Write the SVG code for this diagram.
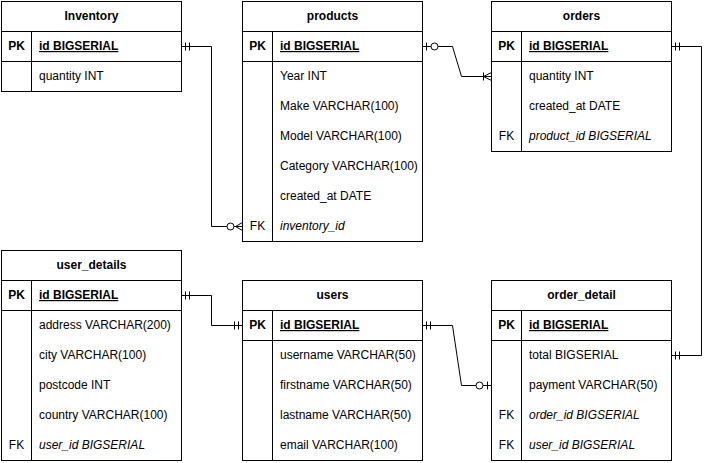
<svg xmlns="http://www.w3.org/2000/svg" width="713" height="463" viewBox="0 0 713 463">
<style>
  .box{fill:#fff;stroke:#000;stroke-width:1}
  .ln{stroke:#000;stroke-width:1;fill:none}
  text{font-family:"Liberation Sans",Arial,Helvetica,sans-serif;font-size:12px;fill:#000}
  .hd{font-weight:bold;text-anchor:middle}
  .key{font-weight:bold;text-anchor:middle}
  .fk{text-anchor:middle}
  .pk{font-weight:bold;text-decoration:underline}
  .it{font-style:italic}
  .conn path,.conn line{stroke:#000;stroke-width:1;fill:none}
  .conn circle{stroke:#000;stroke-width:1;fill:#fff}
</style>
<rect width="713" height="463" fill="#fff"/>

<g id="inventory">
  <rect class="box" x="1.5" y="1.5" width="180" height="90"/>
  <line class="ln" x1="1.5" y1="31.5" x2="181.5" y2="31.5"/>
  <line class="ln" x1="1.5" y1="61.5" x2="181.5" y2="61.5"/>
  <line class="ln" x1="31.5" y1="31.5" x2="31.5" y2="91.5"/>
  <text class="hd" x="91.5" y="20">Inventory</text>
  <text class="key" x="16.5" y="50">PK</text>
  <text class="pk" x="39" y="50">id BIGSERIAL</text>
  <text x="39" y="80">quantity INT</text>
</g>

<g id="products">
  <rect class="box" x="242.5" y="1.5" width="180" height="240"/>
  <line class="ln" x1="242.5" y1="31.5" x2="422.5" y2="31.5"/>
  <line class="ln" x1="242.5" y1="61.5" x2="422.5" y2="61.5"/>
  <line class="ln" x1="272.5" y1="31.5" x2="272.5" y2="241.5"/>
  <text class="hd" x="332.5" y="20">products</text>
  <text class="key" x="257.5" y="50">PK</text>
  <text class="pk" x="280" y="50">id BIGSERIAL</text>
  <text x="280" y="80">Year INT</text>
  <text x="280" y="110">Make VARCHAR(100)</text>
  <text x="280" y="140">Model VARCHAR(100)</text>
  <text x="280" y="170">Category VARCHAR(100)</text>
  <text x="280" y="200">created_at DATE</text>
  <text class="fk" x="257.5" y="230">FK</text>
  <text class="it" x="280" y="230">inventory_id</text>
</g>

<g id="orders">
  <rect class="box" x="491.5" y="1.5" width="180" height="150"/>
  <line class="ln" x1="491.5" y1="31.5" x2="671.5" y2="31.5"/>
  <line class="ln" x1="491.5" y1="61.5" x2="671.5" y2="61.5"/>
  <line class="ln" x1="521.5" y1="31.5" x2="521.5" y2="151.5"/>
  <text class="hd" x="581.5" y="20">orders</text>
  <text class="key" x="506.5" y="50">PK</text>
  <text class="pk" x="529" y="50">id BIGSERIAL</text>
  <text x="529" y="80">quantity INT</text>
  <text x="529" y="110">created_at DATE</text>
  <text class="fk" x="506.5" y="140">FK</text>
  <text class="it" x="529" y="140">product_id BIGSERIAL</text>
</g>

<g id="user_details">
  <rect class="box" x="1.5" y="250.5" width="180" height="210"/>
  <line class="ln" x1="1.5" y1="280.5" x2="181.5" y2="280.5"/>
  <line class="ln" x1="1.5" y1="310.5" x2="181.5" y2="310.5"/>
  <line class="ln" x1="31.5" y1="280.5" x2="31.5" y2="460.5"/>
  <text class="hd" x="91.5" y="269">user_details</text>
  <text class="key" x="16.5" y="299">PK</text>
  <text class="pk" x="39" y="299">id BIGSERIAL</text>
  <text x="39" y="329">address VARCHAR(200)</text>
  <text x="39" y="359">city VARCHAR(100)</text>
  <text x="39" y="389">postcode INT</text>
  <text x="39" y="419">country VARCHAR(100)</text>
  <text class="fk" x="16.5" y="449">FK</text>
  <text class="it" x="39" y="449">user_id BIGSERIAL</text>
</g>

<g id="users">
  <rect class="box" x="242.5" y="280.5" width="180" height="180"/>
  <line class="ln" x1="242.5" y1="310.5" x2="422.5" y2="310.5"/>
  <line class="ln" x1="242.5" y1="340.5" x2="422.5" y2="340.5"/>
  <line class="ln" x1="272.5" y1="310.5" x2="272.5" y2="460.5"/>
  <text class="hd" x="332.5" y="299">users</text>
  <text class="key" x="257.5" y="329">PK</text>
  <text class="pk" x="280" y="329">id BIGSERIAL</text>
  <text x="280" y="359">username VARCHAR(50)</text>
  <text x="280" y="389">firstname VARCHAR(50)</text>
  <text x="280" y="419">lastname VARCHAR(50)</text>
  <text x="280" y="449">email VARCHAR(100)</text>
</g>

<g id="order_detail">
  <rect class="box" x="491.5" y="280.5" width="180" height="180"/>
  <line class="ln" x1="491.5" y1="310.5" x2="671.5" y2="310.5"/>
  <line class="ln" x1="491.5" y1="340.5" x2="671.5" y2="340.5"/>
  <line class="ln" x1="521.5" y1="310.5" x2="521.5" y2="460.5"/>
  <text class="hd" x="581.5" y="299">order_detail</text>
  <text class="key" x="506.5" y="329">PK</text>
  <text class="pk" x="529" y="329">id BIGSERIAL</text>
  <text x="529" y="359">total BIGSERIAL</text>
  <text x="529" y="389">payment VARCHAR(50)</text>
  <text class="fk" x="506.5" y="419">FK</text>
  <text class="it" x="529" y="419">order_id BIGSERIAL</text>
  <text class="fk" x="506.5" y="449">FK</text>
  <text class="it" x="529" y="449">user_id BIGSERIAL</text>
</g>

<g id="connectors" class="conn">
  <!-- inventory -> products.inventory_id -->
  <path d="M181.5 46.5 H211.5 V226.5 H242.5"/>
  <line x1="185.5" y1="42.5" x2="185.5" y2="50.5"/>
  <line x1="189.5" y1="42.5" x2="189.5" y2="50.5"/>
  <path d="M235.5 226.5 L242.5 222.5 M235.5 226.5 L242.5 230.5"/>
  <circle cx="230.5" cy="226.5" r="3.5"/>

  <!-- products -> orders -->
  <path d="M422.5 46.5 H452.5 L461.5 76.5 H491.5"/>
  <line x1="426.5" y1="42.5" x2="426.5" y2="50.5"/>
  <circle cx="434.5" cy="46.5" r="3.5"/>
  <line x1="483.5" y1="72.5" x2="483.5" y2="80.5"/>
  <path d="M483.5 76.5 L491.5 72.5 M483.5 76.5 L491.5 80.5"/>

  <!-- orders -> order_detail -->
  <path d="M671.5 46.5 H701.5 V355.5 H671.5"/>
  <line x1="675.5" y1="42.5" x2="675.5" y2="50.5"/>
  <line x1="679.5" y1="42.5" x2="679.5" y2="50.5"/>
  <line x1="675.5" y1="351.5" x2="675.5" y2="359.5"/>
  <line x1="679.5" y1="351.5" x2="679.5" y2="359.5"/>

  <!-- user_details -> users -->
  <path d="M181.5 295.5 H211.5 V325.5 H242.5"/>
  <line x1="185.5" y1="291.5" x2="185.5" y2="299.5"/>
  <line x1="189.5" y1="291.5" x2="189.5" y2="299.5"/>
  <line x1="234.5" y1="321.5" x2="234.5" y2="329.5"/>
  <line x1="238.5" y1="321.5" x2="238.5" y2="329.5"/>

  <!-- users -> order_detail -->
  <path d="M422.5 325.5 H452.5 L461.5 385.5 H491.5"/>
  <line x1="426.5" y1="321.5" x2="426.5" y2="329.5"/>
  <line x1="430.5" y1="321.5" x2="430.5" y2="329.5"/>
  <line x1="487.5" y1="381.5" x2="487.5" y2="389.5"/>
  <circle cx="479.5" cy="385.5" r="3.5"/>
</g>
</svg>
